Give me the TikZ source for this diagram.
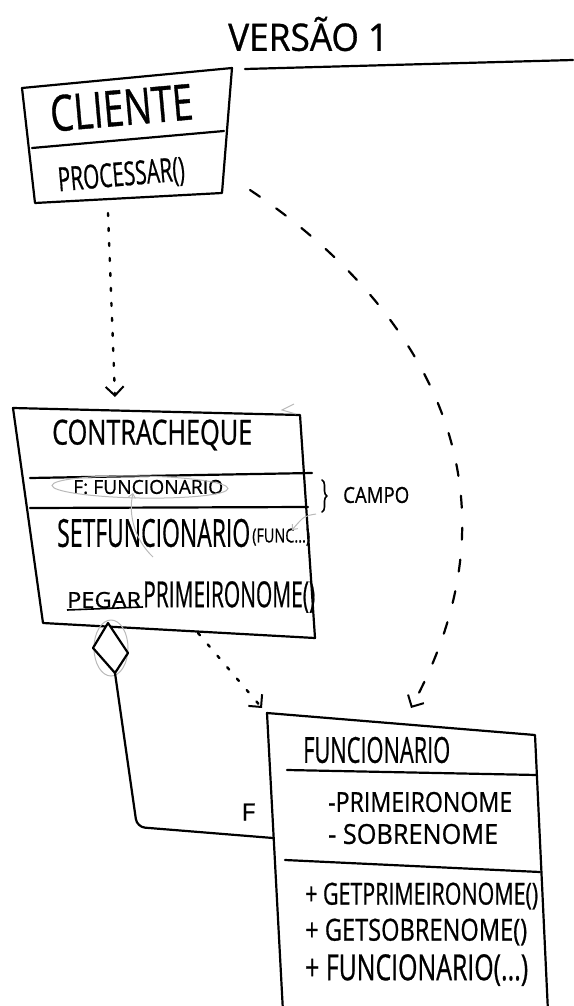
\documentclass[tikz,border=0pt]{standalone}
\usepackage{graphicx}
\usepackage{fontspec}
\setmainfont{Open Sans}[FakeBold=0.8]
\usetikzlibrary{arrows.meta,calc,decorations.pathreplacing}
\newcommand{\hwtext}[3]{\resizebox{#1pt}{#2pt}{#3}}
\begin{document}
\begin{tikzpicture}[x=1pt,y=-1pt,
  ink/.style={line width=2.2pt, line join=round, line cap=round},
  lbl/.style={inner sep=0pt, anchor=west},
  depdot/.style={line width=2.4pt, dash pattern=on 3pt off 12pt, line cap=round,
    -{Straight Barb[length=9pt,width=18pt,line width=2pt]}},
  depdash/.style={line width=2.2pt, dash pattern=on 12pt off 20pt, line cap=round,
    -{Straight Barb[length=9pt,width=18pt,line width=2pt]}},
  pencil/.style={gray!55, line width=1pt},
]
\useasboundingbox (0,0) rectangle (573,1006);

% title
\node[lbl] (title) at (228,34) {\hwtext{160}{34}{VERSÃO 1}};
\draw[ink] (245,69) -- (573,60);

% Cliente
\draw[ink] (22,88) -- (232,68) -- (222,193) -- (35,203) -- cycle;
\draw[ink] (32,148) -- (224,131);
\node[lbl, rotate=5] (cliname) at (50,114) {\hwtext{143}{36}{CLIENTE}};
\node[lbl, rotate=5] (cliop) at (58,182) {\hwtext{127}{24}{PROCESSAR()}};
\coordinate (cliS) at (108,213);
\coordinate (cliE) at (250,190);

% Contracheque
\draw[ink] (13,408) -- (300,415) -- (315,638) -- (43,623) -- cycle;
\draw[ink] (30,478) -- (312,473);
\draw[ink] (30,508) -- (308,507);
\node[lbl] (conname) at (52,435) {\hwtext{200}{25}{CONTRACHEQUE}};
\node[lbl] (confield) at (73,487) {\hwtext{150}{14}{F: FUNCIONARIO}};
\node[lbl] (conset) at (57,533) {\hwtext{193}{28}{SETFUNCIONARIO}};
\node[lbl] (conarg) at (252,537) {\hwtext{58}{14}{(FUNC...)}};
\node[lbl] (conpegar) at (67,600) {\hwtext{74}{16}{PEGAR}};
\node[lbl] (conprim) at (143,597) {\hwtext{172}{26}{PRIMEIRONOME()}};
\draw[line width=1.6pt] (67,610) -- (143,607);
\coordinate (conN) at (115,397);
\coordinate (conSE) at (198,633);

% pencil annotations
\draw[pencil, rotate around={-1:(140,487)}] (140,487) ellipse [x radius=88, y radius=11];
\draw[pencil, -{Straight Barb[length=4pt,width=7pt]}] (153,557) .. controls (135,540) and (128,515) .. (133,493);
\draw[pencil, -{Straight Barb[length=4pt,width=7pt]}] (316,514) .. controls (304,516) .. (292,530);
\draw[pencil] (294,404) -- (282,410) -- (296,414);

% campo
\draw[ink, line width=1.6pt, decorate, decoration={brace, amplitude=5pt}] (322,480) -- (322,512);
\node[lbl] (campo) at (343,495) {\hwtext{66}{16}{CAMPO}};

% aggregation
\coordinate (diaB) at (115,673);
\coordinate (funW) at (273,838);
\draw[pencil] (111,648) ellipse [x radius=17, y radius=28];
\draw[ink, rounded corners=8pt] (diaB) -- (137,827) -- (funW);
\draw[ink, fill=white] (108,623) -- (93,648) -- (diaB) -- (128,653) -- cycle;
\node[lbl] (flabel) at (241,812) {\hwtext{14}{17}{F}};

% Funcionario
\draw[ink] (283,1012) -- (267,713) -- (535,735) -- (548,1012);
\draw[ink] (287,770) -- (537,775);
\draw[ink] (285,860) -- (540,872);
\node[lbl] (funname) at (303,750) {\hwtext{147}{26}{FUNCIONARIO}};
\node[lbl] (funa1) at (328,802) {\hwtext{184}{20}{-PRIMEIRONOME}};
\node[lbl] (funa2) at (328,834) {\hwtext{170}{20}{- SOBRENOME}};
\node[lbl] (funm1) at (305,896) {\hwtext{233}{22}{+ GETPRIMEIRONOME()}};
\node[lbl] (funm2) at (305,932) {\hwtext{222}{22}{+ GETSOBRENOME()}};
\node[lbl] (funm3) at (305,970) {\hwtext{223}{26}{+ FUNCIONARIO(...)}};
\coordinate (funN) at (411,708);
\coordinate (funNW) at (262,708);

% dependencies
\draw[depdot] (cliS) -- (conN);
\draw[depdot] (conSE) -- (funNW);
\draw[depdash] (cliE) .. controls (400,290) and (540,470) .. (funN);
\end{tikzpicture}
\end{document}
